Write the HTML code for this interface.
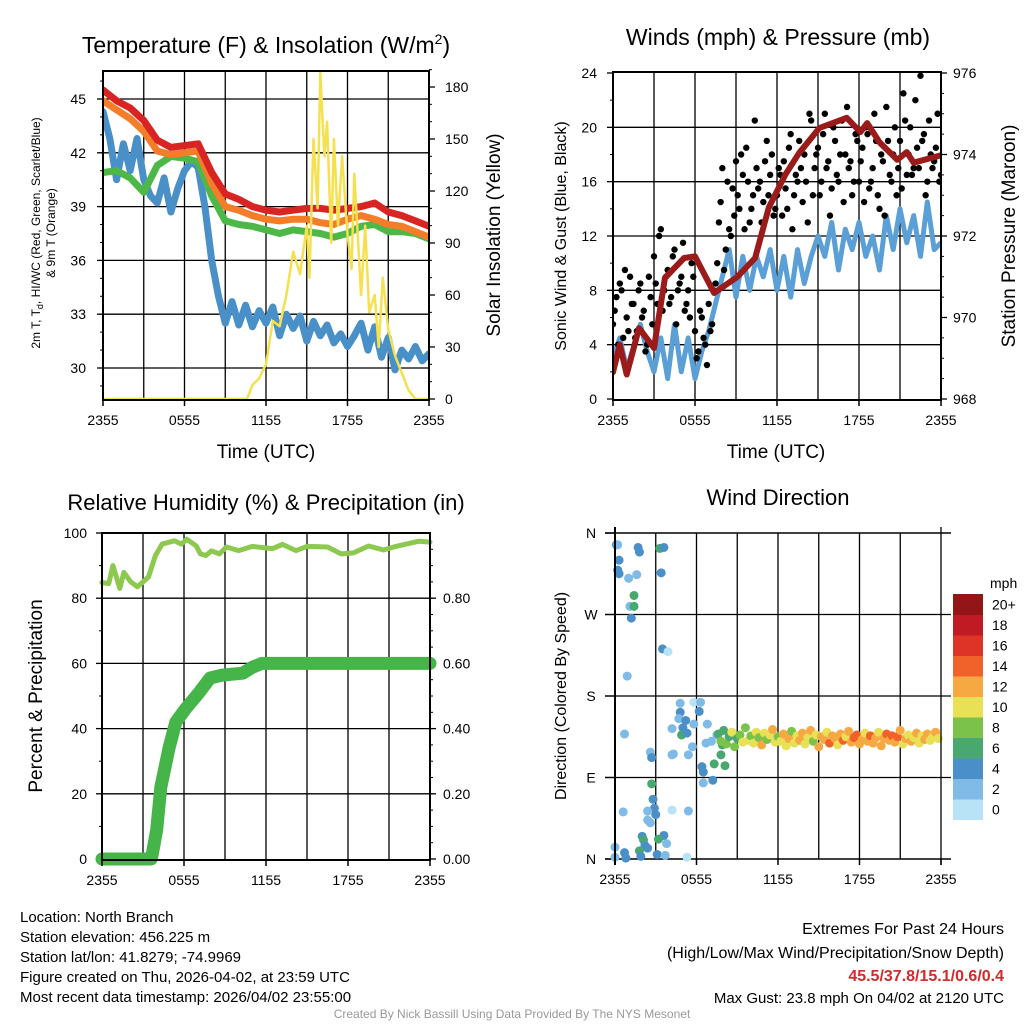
<!DOCTYPE html>
<html><head><meta charset="utf-8"><style>
html,body{margin:0;padding:0;background:#fff}
svg{display:block}
text{font-family:"Liberation Sans",Arial,sans-serif;fill:#000}
</style></head><body>
<svg id="s" width="1024" height="1024" viewBox="0 0 1024 1024" xmlns="http://www.w3.org/2000/svg"></svg>
<script>
// ---------- DATA ----------
const xTickLabels = ["2355","0555","1155","1755","2355"];
const tempTicks = [30,33,36,39,42,45];
const insolTicks = [0,30,60,90,120,150,180];
const windTicks = [0,4,8,12,16,20,24];
const presTicks = [968,970,972,974,976];
const rhTicks = [0,20,40,60,80,100];
const precipTicks = ["0.00","0.20","0.40","0.60","0.80"];
const dirTickLabels = ["N","E","S","W","N"];
const cbLabels = ["0","2","4","6","8","10","12","14","16","18","20+"];
const cbColors = ["#b8e2f6","#7fbbe6","#4a8fc7","#49a86f","#7bc24a","#e8e055","#f6a942","#f0622a","#de3428","#c01b24","#921518"];

// hourly temperatures (F)
const redT = [45.5,44.9,44.5,43.8,42.7,42.3,42.4,42.5,40.9,39.7,39.4,39.0,38.8,38.7,38.8,38.9,38.9,38.8,38.9,39.0,39.2,38.7,38.5,38.2,37.9];
const orangeT = [44.9,44.4,43.9,43.2,42.1,41.9,42.0,42.1,40.3,39.0,38.8,38.5,38.3,38.2,38.3,38.3,38.1,38.0,38.3,38.5,38.3,38.0,37.9,37.6,37.3];
const greenT = [40.9,41.0,40.6,39.8,41.3,41.8,41.7,41.5,39.6,38.2,38.0,37.9,37.7,37.5,37.7,37.6,37.5,37.3,37.5,37.9,38.0,37.6,37.6,37.5,37.2];
// half-hourly dewpoint
const blueT = [44.3,42.8,40.5,42.5,41.0,42.8,40.5,39.6,39.2,40.6,38.7,40.0,41.0,41.5,41.2,39.0,36.0,34.0,32.5,33.7,32.4,33.5,32.3,33.2,32.5,33.4,31.8,33.0,32.2,32.9,31.5,32.6,31.8,32.4,31.4,31.9,31.2,31.8,32.5,31.0,32.3,30.6,31.7,29.9,31.0,30.5,31.2,30.4,30.8];
const insolHour = [0,10.6,11.0,11.5,12.0,12.5,13.0,13.5,14.0,14.5,15.0,15.2,15.5,15.8,16.0,16.3,16.5,16.8,17.0,17.3,17.6,18.0,18.3,18.5,19.0,19.3,19.6,20.0,20.3,20.6,21.0,21.5,22.0,22.5,23.0,24.0];
const insolVal = [0,0,8,12,20,45,42,60,85,72,100,70,150,110,188,140,160,90,150,100,140,95,75,130,60,100,50,60,30,70,40,25,15,5,0,0];

// winds (mph), half-hourly
const windSus = [3.0,4.5,2.2,3.8,5.5,3.5,2.0,4.5,1.5,5.5,2.0,4.5,1.5,3.5,5.0,7.0,9.0,11.0,7.5,10.5,8.0,10.5,9.0,11.0,8.0,10.5,7.5,11.0,8.5,10.5,12.0,10.5,13.0,9.5,12.5,11.0,13.0,10.5,12.0,9.5,13.5,11.0,14.0,11.5,13.5,10.5,14.5,11.0,11.5];
// gusts, every 15 min
const windGust = [5.5,7.5,8.5,4.5,6,9,7,5,8.5,6.5,4,7.5,10.5,7,12.5,8,9.5,7.5,11,8,9,6.5,8,10,5,3.5,6,4,7,5.5,8.5,13,17,11,12.5,15.5,17.5,14,16.5,18.5,13,15,17,16,14.5,19,16.5,13.5,15,16.5,17.5,14,19.5,15,16,17,18,13,20.5,17,18.5,16,21,17.5,15.5,19,16,20.5,18,17,15,19.5,16,18.5,20,15.5,17,19,14,17.5,21.5,16.5,18,15,19,22.5,16.5,20,17,18.5,23.8,19.5,16,18,17.5,21,16.5];
// gusts, every 15 min offset by 7.5 min
const windGust2 = [6.5,4,8,9.5,5,7,4.5,8,6,3.5,9,5.5,8.5,12,6.5,9,7,10.5,5.5,8.5,11.5,7,6,9,3,6.5,4.5,2.5,5,8,10,14.5,9.5,16,12,13.5,15,18,12.5,16,14,20.5,15.5,13,17.5,15,18,14,17,13.5,15.5,18.5,12.5,16.5,19,14.5,16,21,15,18,15,19.5,17,13.5,20,16.5,18,14.5,21.5,17.5,16,19,17.5,14.5,19.5,16,21,15,18,13.5,19,16,20,17,15.5,20.5,18,16.5,22,17,19,15,20.5,17,18.5,16];
const presHour = [0,0.5,1.0,1.9,3.0,3.8,5.2,6.0,7.4,9.1,10.4,11.4,12.6,13.6,15.1,17.1,18.1,18.6,19.5,20.8,21.5,22.0,24.0];
const presVal = [968.66,969.33,968.6,969.74,969.25,970.97,971.46,971.5,970.6,971.0,971.46,972.7,973.5,974.03,974.65,974.9,974.55,974.77,974.3,973.87,974.06,973.8,973.98];

// RH & precip
const rhHour = [0,0.5,0.8,1.3,1.6,2.1,2.6,3.4,3.9,4.4,5.3,5.8,6.2,6.9,7.2,7.6,8.0,8.6,9.1,10,11,12.5,13.2,14.2,15,16.5,17.5,18.4,19.5,20.6,21.5,23.2,24];
const rhVal = [84.8,84.5,90,83,87.9,85,83.5,86.5,93,96.6,97.6,96.6,98.1,96,93.6,93.1,94.5,93.6,95.7,94.6,95.9,95.2,96.5,94.6,95.9,95.7,93.6,93.9,96,94.8,95.9,97.5,97.2];
const prHour = [0,3.6,3.7,4.0,4.3,4.9,5.4,6.1,7.1,7.9,8.8,10.3,11.0,11.7,24];
const prVal = [0,0,0.02,0.09,0.22,0.34,0.42,0.46,0.51,0.555,0.564,0.57,0.588,0.60,0.60];

// wind direction (deg) & speed
const dirHourEarly = [0.1,0.2,1.7,1.8,0.3,0.2,0.3,1.0,1.6,1.4,1.1,1.4,1.2,3.3,3.6,3.4,3.5,3.9,0.9,0.7,4.8,5.8,6.3,4.8,4.7,5.2,5.0,4.2,4.9,5.3,5.8,6.2,6.8,6.7,7.1,7.5,7.9,7.8,8.1,7.3,6.4,6.5,7.2,6.5,5.4,4.2,2.6,2.7,4.3,5.7,2.7,2.8,2.9,3.0,2.4,0.6,2.4,2.6,4.2,5.4,2.0,2.1,3.6,3.2,3.8,2.2,2.4,1.8,0.0,0.7,0.8,0.0,1.9,3.1,3.7,5.3];
const dirDegEarly = [347,347,344,339,330,319,315,310,314,291,279,279,266,343,344,316,232,229,202,138,172,173,173,162,155,153,145,144,137,139,149,163,149,128,130,137,126,115,103,105,102,96,87,84,115,115,118,112,116,124,83,66,56,49,53,52,43,40,54,53,25,21,26,22,17,15,12,9,13,7,1,2,3,5,4,2];
const dirSpdEarly = [4,2,4,4,4,4,4,2,2,6,2,6,4,6,4,4,4,0,2,2,2,0,2,4,2,4,4,2,6,4,2,4,2,2,2,2,6,6,6,6,4,4,4,2,2,2,2,4,2,2,6,4,4,4,2,2,2,2,0,2,4,6,4,6,2,4,4,6,2,4,4,2,4,4,2,0];
const dirDegLate = [138,130,142,127,135,140,124,133,137,129,145,131,136,128,140,134,126,139,132,137,143,129,135,130,138,125,133,141,128,136,131,139,127,134,142,130,137,124,135,132,140,128,136,133,126,138,131,135,141,129,134,137,127,132,139,130,136,128,134,140,125,133,138,131,136,129,135,142,127,133,137,130,134,139,128,136,132,138,131,135,140,133];
const dirSpdLate = [7,8,6,9,7,10,8,7,9,11,8,10,9,10,11,9,12,10,8,11,12,10,9,11,13,10,12,9,11,10,12,13,11,10,12,9,11,12,12,13,11,14,12,13,10,12,14,11,13,12,14,15,12,13,11,12,14,13,12,11,13,12,14,13,15,12,14,13,11,12,10,13,11,12,10,11,13,12,10,11,12,11];

// ---------- DRAW ----------
const NS="http://www.w3.org/2000/svg";
const svg=document.getElementById('s');
function el(tag,attrs,parent){const e=document.createElementNS(NS,tag);for(const k in attrs)e.setAttribute(k,attrs[k]);(parent||svg).appendChild(e);return e;}
function txt(x,y,s,size,anchor,parent,extra){const t=el('text',Object.assign({x:x,y:y,'font-size':size,'text-anchor':anchor||'start'},extra||{}),parent);t.textContent=s;return t;}
function lin(d0,d1,r0,r1){return v=>r0+(v-d0)/(d1-d0)*(r1-r0);}
function pathFrom(xs,ys,fx,fy){let d='';for(let i=0;i<xs.length;i++){d+=(i?'L':'M')+fx(xs[i]).toFixed(1)+','+fy(ys[i]).toFixed(1);}return d;}
function idx(n,step){return Array.from({length:n},(_,i)=>i*step);}

function frame(g,L,T,R,B){
  const fx=lin(0,24,L,R);
  for(let h=3;h<24;h+=3){const l=el('line',{x1:fx(h),y1:T,x2:fx(h),y2:B,stroke:'#000','stroke-width':1.3},g);
    
    }
  return fx;
}
function border(g,L,T,R,B){const r=el('rect',{x:L,y:T,width:R-L,height:B-T,fill:'none',stroke:'#000','stroke-width':2},g);
  
  }
function hgrid(g,L,R,y){const l=el('line',{x1:L,y1:y,x2:R,y2:y,stroke:'#000','stroke-width':1.3},g);
  
  }
function xTicks(g,fx,B){for(let i=0;i<xTickLabels.length;i++){const h=i*6;el('line',{x1:fx(h),y1:B,x2:fx(h),y2:B+6,stroke:'#000','stroke-width':1.5},g);
  const t=txt(fx(h),B+25,xTickLabels[i],14,'middle',g);
  
  }}

// ===== Panel 1 =====
(function(){
 const L=103,T=71,R=429,B=400;
 const g=el('g',{});  
 const fx=frame(g,L,T,R,B);
 const fy=lin(45,30,99,368), fi=lin(0,180,399,87);
 tempTicks.forEach(v=>{hgrid(g,L,R,fy(v));el('line',{x1:L-6,y1:fy(v),x2:L,y2:fy(v),stroke:'#000','stroke-width':1.3},g);
   const t=txt(L-17,fy(v)+5,String(v),14,'end',g);  });
 for(let v=29;v<=46;v++){el('line',{x1:L-3,y1:fy(v),x2:L,y2:fy(v),stroke:'#000','stroke-width':1},g);}
 insolTicks.forEach(v=>{el('line',{x1:R,y1:fi(v),x2:R+6,y2:fi(v),stroke:'#000','stroke-width':1.3},g);
   const t=txt(R+16,fi(v)+5,String(v),14,'start',g);  });
 for(let v=10;v<=190;v+=10){el('line',{x1:R,y1:fi(v),x2:R+3,y2:fi(v),stroke:'#000','stroke-width':1},g);}
 const clip=el('clipPath',{id:'c1'},g); el('rect',{x:L,y:T,width:R-L,height:B-T},clip);
 const pg=el('g',{'clip-path':'url(#c1)'},g);
 const series=[[blueT,0.5,'#4a90c8','dewpoint-line',7],[greenT,1,'#4db848','heat-index-line',7],[orangeT,1,'#f47d2a','9m-temp-line',7],[redT,1,'#d92424','2m-temp-line',7]];
 series.forEach(s=>{const p=el('path',{d:pathFrom(idx(s[0].length,s[1]),s[0],fx,fy),fill:'none',stroke:s[2],'stroke-width':s[4],'stroke-linejoin':'round','stroke-linecap':'round'},pg);
    });
 const pi=el('path',{d:pathFrom(insolHour,insolVal,fx,fi),fill:'none',stroke:'#f5e050','stroke-width':2.5,'stroke-linejoin':'round'},pg);
  
 border(g,L,T,R,B); xTicks(g,fx,B);
 const t1=txt(266,53,'Temperature (F) & Insolation (W/m',23,'middle',g); const sp=el('tspan',{dy:-9,'font-size':14},t1); sp.textContent='2'; const sp2=el('tspan',{dy:9},t1); sp2.textContent=')';
  
 const xl=txt(266,458,'Time (UTC)',19,'middle',g);  
 const yl=txt(0,0,'2m T, T',12,'middle',g,{transform:'translate(40,233) rotate(-90)'});
 const sb=el('tspan',{dy:3,'font-size':9},yl); sb.textContent='d'; const s3=el('tspan',{dy:-3},yl); s3.textContent=', HI/WC (Red, Green, Scarlet/Blue)';
  
 const yl2=txt(0,0,'& 9m T (Orange)',12,'middle',g,{transform:'translate(55,233) rotate(-90)'});  
 const yr=txt(0,0,'Solar Insolation (Yellow)',19,'middle',g,{transform:'translate(500,235) rotate(-90)'});  
})();

// ===== Panel 2 =====
(function(){
 const L=613,T=72,R=941,B=400;
 const g=el('g',{});  
 const fx=frame(g,L,T,R,B);
 const fy=lin(0,24,399,73), fp=lin(968,976,399,73);
 windTicks.forEach(v=>{if(v>0&&v<24)hgrid(g,L,R,fy(v));el('line',{x1:L-6,y1:fy(v),x2:L,y2:fy(v),stroke:'#000','stroke-width':1.3},g);
   const t=txt(L-16,fy(v)+5,String(v),14,'end',g);  });
 for(let v=2;v<24;v+=4){el('line',{x1:L-3,y1:fy(v),x2:L,y2:fy(v),stroke:'#000','stroke-width':1},g);}
 presTicks.forEach(v=>{el('line',{x1:R,y1:fp(v),x2:R+6,y2:fp(v),stroke:'#000','stroke-width':1.3},g);
   const t=txt(R+12,fp(v)+5,String(v),14,'start',g);  });
 for(let v=968.5;v<976;v+=0.5){el('line',{x1:R,y1:fp(v),x2:R+3,y2:fp(v),stroke:'#000','stroke-width':1},g);}
 const clip=el('clipPath',{id:'c2'},g); el('rect',{x:L,y:T,width:R-L,height:B-T},clip);
 const pg=el('g',{'clip-path':'url(#c2)'},g);
 const pw=el('path',{d:pathFrom(idx(windSus.length,0.5),windSus,fx,fy),fill:'none',stroke:'#5a9fd6','stroke-width':5,'stroke-linejoin':'round'},pg);
  
 windGust.forEach((v,i)=>{const c=el('circle',{cx:fx(i*0.25),cy:fy(v),r:3.2,fill:'#000'},pg);
    });
 windGust2.forEach((v,i)=>{const c=el('circle',{cx:fx(i*0.25+0.125),cy:fy(v),r:3.2,fill:'#000'},pg);
    });
 const pp=el('path',{d:pathFrom(presHour,presVal,fx,fp),fill:'none',stroke:'#9b1b1b','stroke-width':6,'stroke-linejoin':'round','stroke-linecap':'round'},pg);
  
 border(g,L,T,R,B); xTicks(g,fx,B);
 const t1=txt(778,45,'Winds (mph) & Pressure (mb)',23,'middle',g);  
 const xl=txt(776,458,'Time (UTC)',19,'middle',g);  
 const yl=txt(0,0,'Sonic Wind & Gust (Blue, Black)',16,'middle',g,{transform:'translate(566,236) rotate(-90)'});  
 const yr=txt(0,0,'Station Pressure (Maroon)',19,'middle',g,{transform:'translate(1015,236) rotate(-90)'});  
})();

// ===== Panel 3 =====
(function(){
 const L=102,T=533,R=430,B=860;
 const g=el('g',{});  
 const fx=frame(g,L,T,R,B);
 const fy=lin(0,100,859,533), fpr=lin(0,1,859,533);
 rhTicks.forEach(v=>{if(v>0&&v<100)hgrid(g,L,R,fy(v));el('line',{x1:L-6,y1:fy(v),x2:L,y2:fy(v),stroke:'#000','stroke-width':1.3},g);
   const t=txt(L-15,fy(v)+5,String(v),14,'end',g);  });
 for(let v=10;v<100;v+=20){el('line',{x1:L-3,y1:fy(v),x2:L,y2:fy(v),stroke:'#000','stroke-width':1},g);}
 precipTicks.forEach(s=>{const v=parseFloat(s);el('line',{x1:R,y1:fpr(v),x2:R+6,y2:fpr(v),stroke:'#000','stroke-width':1.3},g);
   const t=txt(R+13,fpr(v)+5,s,14,'start',g);  });
 for(let v=0.05;v<1;v+=0.05){el('line',{x1:R,y1:fpr(v),x2:R+3,y2:fpr(v),stroke:'#000','stroke-width':1},g);}
 const pr=el('path',{d:pathFrom(rhHour,rhVal,fx,fy),fill:'none',stroke:'#8cc94e','stroke-width':5,'stroke-linejoin':'round','stroke-linecap':'round'},g);
  
 const pp=el('path',{d:pathFrom(prHour,prVal,fx,fpr),fill:'none',stroke:'#45b549','stroke-width':13,'stroke-linejoin':'round','stroke-linecap':'round'},g);
  
 border(g,L,T,R,B); xTicks(g,fx,B);
 const t1=txt(266,510,'Relative Humidity (%) & Precipitation (in)',22,'middle',g);  
 const yl=txt(0,0,'Percent & Precipitation',19,'middle',g,{transform:'translate(42,696) rotate(-90)'});  
})();

// ===== Panel 4 =====
(function(){
 const L=615,T=533,R=941,B=859;
 const g=el('g',{});  
 const fx=frame(g,L,T,R,B);
 const fy=lin(0,360,859,533);
 dirTickLabels.forEach((s,i)=>{const v=i*90;if(i>0&&i<4)hgrid(g,L-10,R+10,fy(v));
   el('line',{x1:L-10,y1:fy(v),x2:L,y2:fy(v),stroke:'#000','stroke-width':1.3},g);
   const t=txt(591,fy(v)+5,s,14,'middle',g);  });
 el('line',{x1:L-10,y1:T,x2:R+10,y2:T,stroke:'#000','stroke-width':1.5},g);
 el('line',{x1:L-10,y1:B,x2:R+10,y2:B,stroke:'#000','stroke-width':1.5},g);
 function col(s){return cbColors[Math.min(10,Math.floor(s/2))];}
 dirHourEarly.forEach((h,i)=>{const c=el('circle',{cx:fx(h),cy:fy(dirDegEarly[i]),r:4.5,fill:col(dirSpdEarly[i])},g);
    });
 const n=Math.min(dirDegLate.length,dirSpdLate.length);
 for(let i=0;i<n;i++){const c=el('circle',{cx:fx(7.6+i*0.2),cy:fy(dirDegLate[i]),r:4.5,fill:col(dirSpdLate[i])},g);
    }
 el('line',{x1:L,y1:T-6,x2:L,y2:B+6,stroke:'#000','stroke-width':2},g);
 el('line',{x1:R,y1:T-6,x2:R,y2:B+6,stroke:'#000','stroke-width':1.3},g);
 xTicks(g,fx,B);
 const t1=txt(778,505,'Wind Direction',22,'middle',g);  
 const yl=txt(0,0,'Direction (Colored By Speed)',16,'middle',g,{transform:'translate(566,696) rotate(-90)'});  
 const cb=el('g',{},g);  
 const top=594,h=20.5;
 for(let i=0;i<cbColors.length;i++){const y=top+(10-i)*h;el('rect',{x:953,y:y,width:30,height:h+0.5,fill:cbColors[i]},cb);
   const t=txt(992,y+h/2+5,cbLabels[i],14,'start',cb);  }
 const u=txt(990,588,'mph',14,'start',cb);  
})();

// ===== Footer text =====
(function(){
 const g=el('g',{});  
 const lines=["Location: North Branch","Station elevation: 456.225 m","Station lat/lon: 41.8279; -74.9969","Figure created on Thu, 2026-04-02, at 23:59 UTC","Most recent data timestamp: 2026/04/02 23:55:00"];
 lines.forEach((s,i)=>{txt(20,922+i*20,s,15,'start',g);});
 const g2=el('g',{});  
 txt(1004,934,'Extremes For Past 24 Hours',16,'end',g2);
 txt(1004,958,'(High/Low/Max Wind/Precipitation/Snow Depth)',16,'end',g2);
 const r=txt(1004,981,'45.5/37.8/15.1/0.6/0.4',16,'end',g2,{'font-weight':'bold'}); r.style.fill='#d22a2a';
 txt(1004,1003,'Max Gust: 23.8 mph On 04/02 at 2120 UTC',15,'end',g2);
 const c=txt(512,1018,'Created By Nick Bassill Using Data Provided By The NYS Mesonet',12,'middle'); c.style.fill='#999';
  
})();
</script>
</body></html>
